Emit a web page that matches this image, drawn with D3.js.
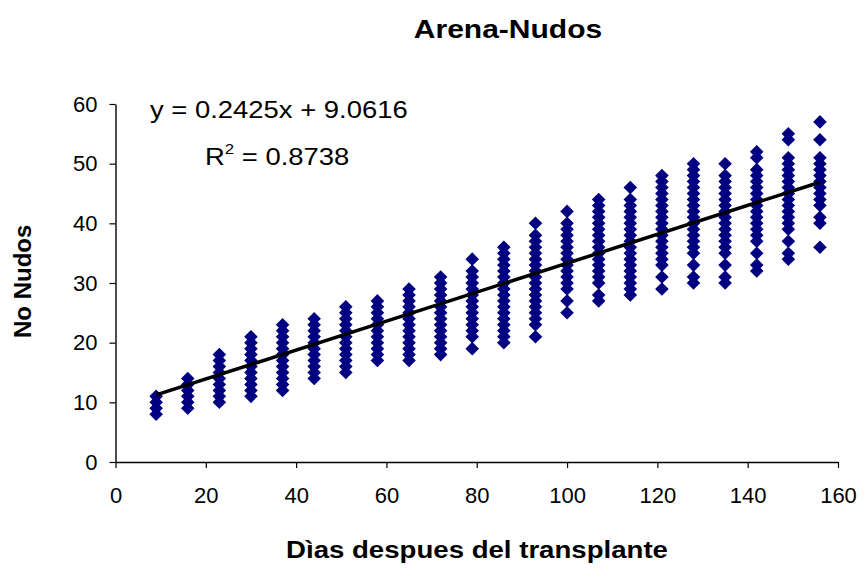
<!DOCTYPE html>
<html>
<head>
<meta charset="utf-8">
<script src="https://cdn.jsdelivr.net/npm/d3@7"></script>
<style>
  body { margin: 0; background: #fff; }
  svg { display: block; font-family: Arial, "Liberation Sans", sans-serif; }
</style>
</head>
<body>
<script>
// days after transplant (one column of points per sampling day)
const days = [9, 16, 23, 30, 37, 44, 51, 58, 65, 72, 79, 86, 93, 100, 107, 114, 121, 128, 135, 142, 149, 156]

// node counts
const nudos = [
    [8, 9, 10, 11],
    [9, 10, 11, 12, 13, 14],
    [10, 11, 12, 13, 14, 15, 16, 17, 18],
    [11, 12, 13, 14, 15, 16, 17, 18, 19, 20, 21],
    [12, 13, 14, 15, 16, 17, 18, 19, 20, 21, 22, 23],
    [14, 15, 16, 17, 18, 19, 20, 21, 22, 23, 24],
    [15, 16, 17, 18, 19, 20, 21, 22, 23, 24, 25, 26],
    [17, 18, 19, 20, 21, 22, 23, 24, 25, 26, 27],
    [17, 18, 19, 20, 21, 22, 23, 24, 25, 26, 27, 28, 29],
    [18, 19, 20, 21, 22, 23, 24, 25, 26, 27, 28, 29, 30, 31],
    [19, 21, 22, 23, 24, 25, 26, 27, 28, 29, 30, 31, 32, 34],
    [20, 21, 22, 23, 24, 25, 26, 27, 28, 29, 30, 31, 32, 33, 34, 35, 36],
    [21, 23, 24, 25, 26, 27, 28, 29, 30, 31, 32, 33, 34, 35, 36, 37, 38, 40],
    [25, 27, 29, 30, 31, 32, 33, 34, 35, 36, 37, 38, 39, 40, 42],
    [27, 28, 30, 31, 32, 33, 34, 35, 36, 37, 38, 39, 40, 41, 42, 43, 44],
    [28, 29, 30, 31, 32, 33, 34, 35, 36, 37, 38, 39, 40, 41, 42, 43, 44, 46],
    [29, 31, 33, 34, 35, 36, 37, 38, 39, 40, 41, 42, 43, 44, 45, 46, 47, 48],
    [30, 31, 33, 35, 36, 37, 38, 39, 40, 41, 42, 43, 44, 45, 46, 47, 48, 49, 50],
    [30, 31, 33, 35, 36, 37, 38, 39, 40, 41, 42, 43, 44, 45, 46, 47, 48, 50],
    [32, 33, 35, 37, 38, 39, 40, 41, 42, 43, 44, 45, 46, 47, 48, 49, 51, 52],
    [34, 35, 37, 39, 40, 41, 42, 43, 44, 45, 46, 47, 48, 49, 50, 51, 54, 55],
    [36, 40, 41, 43, 44, 45, 46, 47, 48, 49, 50, 51, 54, 57]
]

// trendline as printed on the chart
const slope = 0.2425
const intercept = 9.0616
const r2 = '0.8738'

const xTicks = [0, 20, 40, 60, 80, 100, 120, 140, 160]
const yTicks = [0, 10, 20, 30, 40, 50, 60]

const title = 'Arena-Nudos'
const xTitle = 'Dìas despues del transplante'
const yTitle = 'No Nudos'

const width = 865, height = 578

const points = days.flatMap((d, i) => nudos[i].map(v => ({ x: d, y: v })))

const x = d3.scaleLinear().domain([0, 160]).range([115.5, 838])
const y = d3.scaleLinear().domain([0, 60]).range([462, 104])

const svg = d3.select('body').append('svg')
    .attr('width', width)
    .attr('height', height)

// the original text is a bit wider than Arial, stretch it sideways
const stretch = (sel, k) => sel.each(function () {
    const w = this.getComputedTextLength()
    d3.select(this).attr('textLength', w * k).attr('lengthAdjust', 'spacingAndGlyphs')
})

const xAxis = svg.append('g')
    .attr('transform', `translate(0,${y(0)})`)
    .call(d3.axisBottom(x).tickValues(xTicks).tickSize(6).tickPadding(19).tickSizeOuter(0))
const yAxis = svg.append('g')
    .attr('transform', `translate(${x(0)},0)`)
    .call(d3.axisLeft(y).tickValues(yTicks).tickSize(6).tickPadding(12).tickSizeOuter(0))

for (const ax of [xAxis, yAxis]) {
    ax.attr('font-size', 22).attr('font-family', 'Arial, "Liberation Sans", sans-serif')
    ax.select('.domain').attr('stroke', '#000').attr('stroke-width', 1.4)
    ax.selectAll('.tick line').attr('stroke', '#000').attr('stroke-width', 1.2)
    ax.selectAll('.tick text').attr('fill', '#000')
}

// points
svg.append('g')
    .selectAll('path')
    .data(points)
    .join('path')
    .attr('transform', d => `translate(${x(d.x)},${y(d.y)}) rotate(45)`)
    .attr('d', d3.symbol(d3.symbolSquare, 92))
    .attr('fill', '#000080')

// linear trendline
const d0 = d3.min(days), d1 = d3.max(days)
svg.append('line')
    .attr('x1', x(d0)).attr('y1', y(slope * d0 + intercept))
    .attr('x2', x(d1)).attr('y2', y(slope * d1 + intercept))
    .attr('stroke', '#000')
    .attr('stroke-width', 3.5)

// equation label
svg.append('text')
    .attr('transform', 'translate(150,118) scale(1.12,1)')
    .style('font-size', '24.5px')
    .text(`y = ${slope}x + ${intercept}`)

const r2Text = svg.append('text')
    .attr('transform', 'translate(205,165) scale(1.12,1)')
    .style('font-size', '24.5px')
r2Text.append('tspan').text('R')
r2Text.append('tspan').attr('dy', -11).style('font-size', '15px').text('2')
r2Text.append('tspan').attr('dy', 11).text(` = ${r2}`)

// titles
svg.append('text')
    .attr('x', 508).attr('y', 38)
    .attr('text-anchor', 'middle')
    .style('font-size', '25px').style('font-weight', 'bold')
    .text(title)
    .call(stretch, 1.2)

svg.append('text')
    .attr('x', 477).attr('y', 558)
    .attr('text-anchor', 'middle')
    .style('font-size', '23px').style('font-weight', 'bold')
    .text(xTitle)
    .call(stretch, 1.2)

svg.append('text')
    .attr('transform', 'translate(31,338) rotate(-90)')
    .style('font-size', '24px').style('font-weight', 'bold')
    .text(yTitle)
</script>
</body>
</html>
